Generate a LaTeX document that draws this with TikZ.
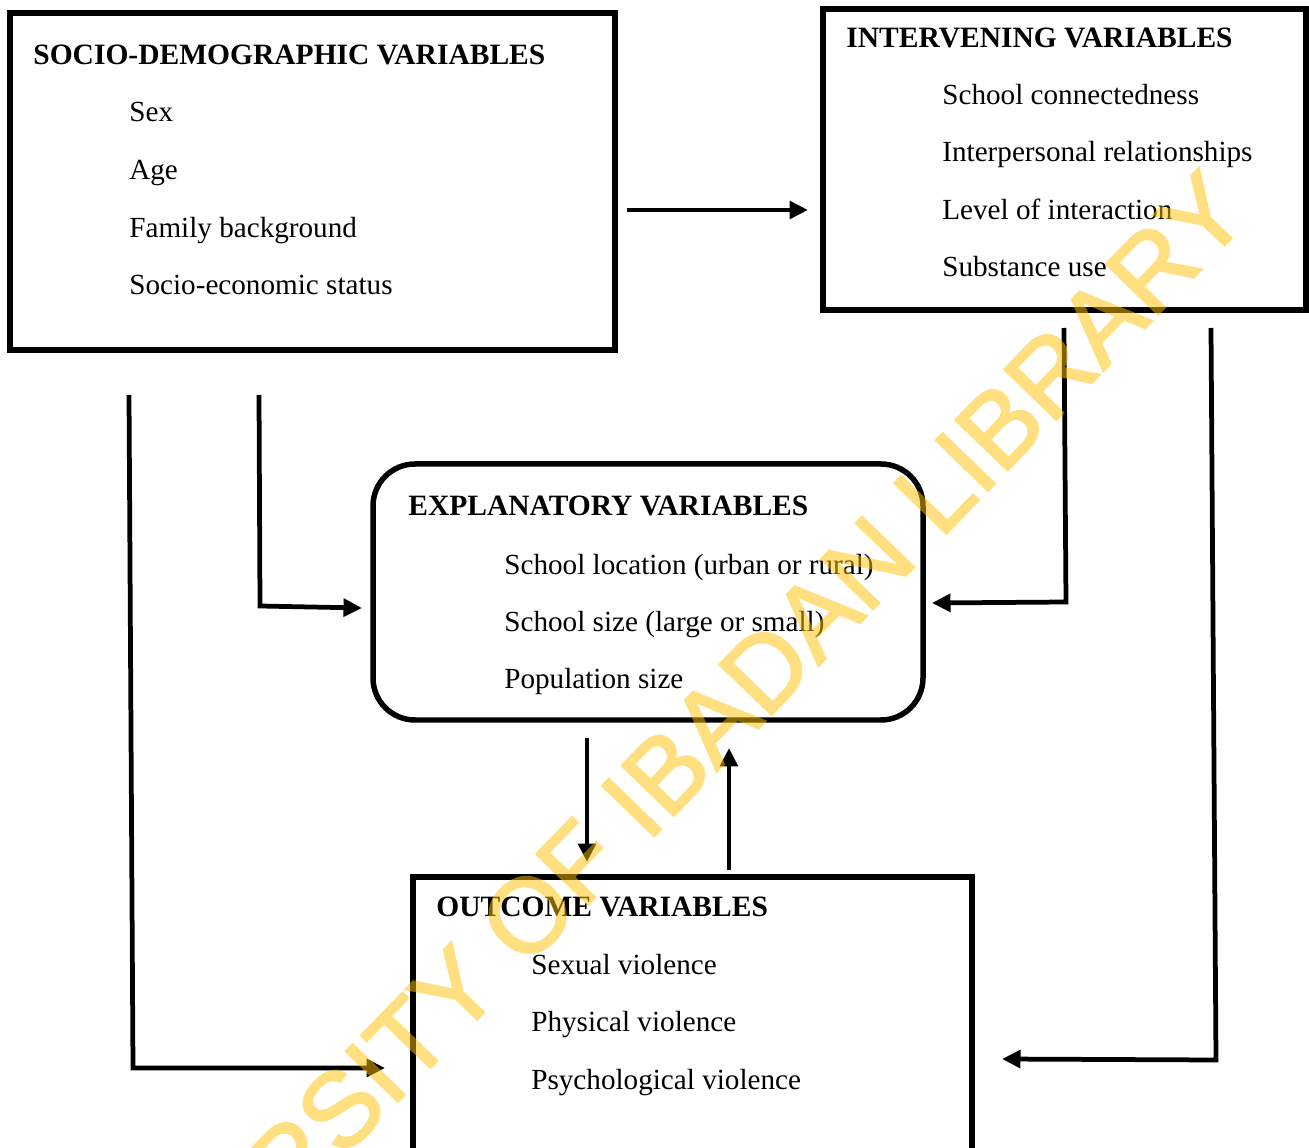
\documentclass[tikz,border=0pt]{standalone}
\usepackage{fontspec}
\setmainfont{Liberation Serif}
\newfontfamily\wmfont[FakeBold=2]{Liberation Sans}
\usetikzlibrary{arrows.meta,calc}
\definecolor{wmyellow}{RGB}{255,192,0}
\begin{document}
\begin{tikzpicture}[x=0.02cm,y=-0.02cm,
  box/.style={draw,line width=0.11cm,anchor=north west,inner sep=0pt,outer sep=0pt},
  lbl/.style={anchor=base west,inner sep=0pt,font=\fontsize{16.6}{20}\selectfont},
  ttl/.style={anchor=base west,inner sep=0pt,font=\fontsize{16.8}{20}\selectfont\bfseries},
  conn/.style={line width=0.095cm,-{Triangle[length=0.37cm,width=0.35cm]}},
  wm/.style={font=\wmfont\fontsize{60}{60}\selectfont,text=wmyellow,inner sep=0pt}]
\useasboundingbox (0,0) rectangle (1309,1148);
\clip (0,0) rectangle (1309,1148);

% boxes
\node[box,minimum width=605*0.02cm,minimum height=337*0.02cm] (socio) at (10,13) {};
\node[box,minimum width=483*0.02cm,minimum height=301*0.02cm] (interv) at (823,9) {};
\node[box,rounded corners=0.84cm,minimum width=550*0.02cm,minimum height=256*0.02cm] (expl) at (373,464) {};
\node[box,minimum width=559*0.02cm,minimum height=320*0.02cm] (outc) at (413,877) {};

% socio-demographic texts
\node[ttl] (s0) at (33,65) {SOCIO-DEMOGRAPHIC VARIABLES};
\node[lbl] (s1) at (129,122) {Sex};
\node[lbl] (s2) at (129,180) {Age};
\node[lbl] (s3) at (129,238) {Family background};
\node[lbl] (s4) at (129,295) {Socio-economic status};

% intervening texts
\node[ttl] (i0) at (846,48) {INTERVENING VARIABLES};
\node[lbl] (i1) at (942,105) {School connectedness};
\node[lbl] (i2) at (942,162) {Interpersonal relationships};
\node[lbl] (i3) at (942,220) {Level of interaction};
\node[lbl] (i4) at (942,277) {Substance use};

% explanatory texts
\node[ttl] (e0) at (408,516) {EXPLANATORY VARIABLES};
\node[lbl] (e1) at (504,575) {School location (urban or rural)};
\node[lbl] (e2) at (504,632) {School size (large or small)};
\node[lbl] (e3) at (504,689) {Population size};

% outcome texts
\node[ttl] (o0) at (436,916) {OUTCOME VARIABLES};
\node[lbl] (o1) at (531,974) {Sexual violence};
\node[lbl] (o2) at (531,1031) {Physical violence};
\node[lbl] (o3) at (531,1089) {Psychological violence};

% connector end points
\coordinate (a1s) at (627,210);  \coordinate (a1e) at (808,210);
\coordinate (a2s) at (129,395);  \coordinate (a2c) at (133,1068); \coordinate (a2e) at (385,1068);
\coordinate (a3s) at (259,395);  \coordinate (a3c) at (260,606);  \coordinate (a3e) at (362,608);
\coordinate (a4s) at (1064,328); \coordinate (a4c) at (1066,602); \coordinate (a4e) at (932,603);
\coordinate (a5s) at (1211,328); \coordinate (a5c) at (1216,1060); \coordinate (a5e) at (1002,1059);
\coordinate (a6s) at (587,738);  \coordinate (a6e) at (587,862);
\coordinate (a7s) at (729,870);  \coordinate (a7e) at (729,748);

\draw[conn] (a1s) -- (a1e);
\draw[conn] (a2s) -- (a2c) -- (a2e);
\draw[conn] (a3s) -- (a3c) -- (a3e);
\draw[conn] (a4s) -- (a4c) -- (a4e);
\draw[conn] (a5s) -- (a5c) -- (a5e);
\draw[conn] (a6s) -- (a6e);
\draw[conn] (a7s) -- (a7e);

% watermark
\begin{scope}[transparency group,opacity=0.5]
\node[wm,rotate=46] (wmark) at (633,806) {UNIVERSITY OF IBADAN LIBRARY};
\end{scope}
\end{tikzpicture}
\end{document}
